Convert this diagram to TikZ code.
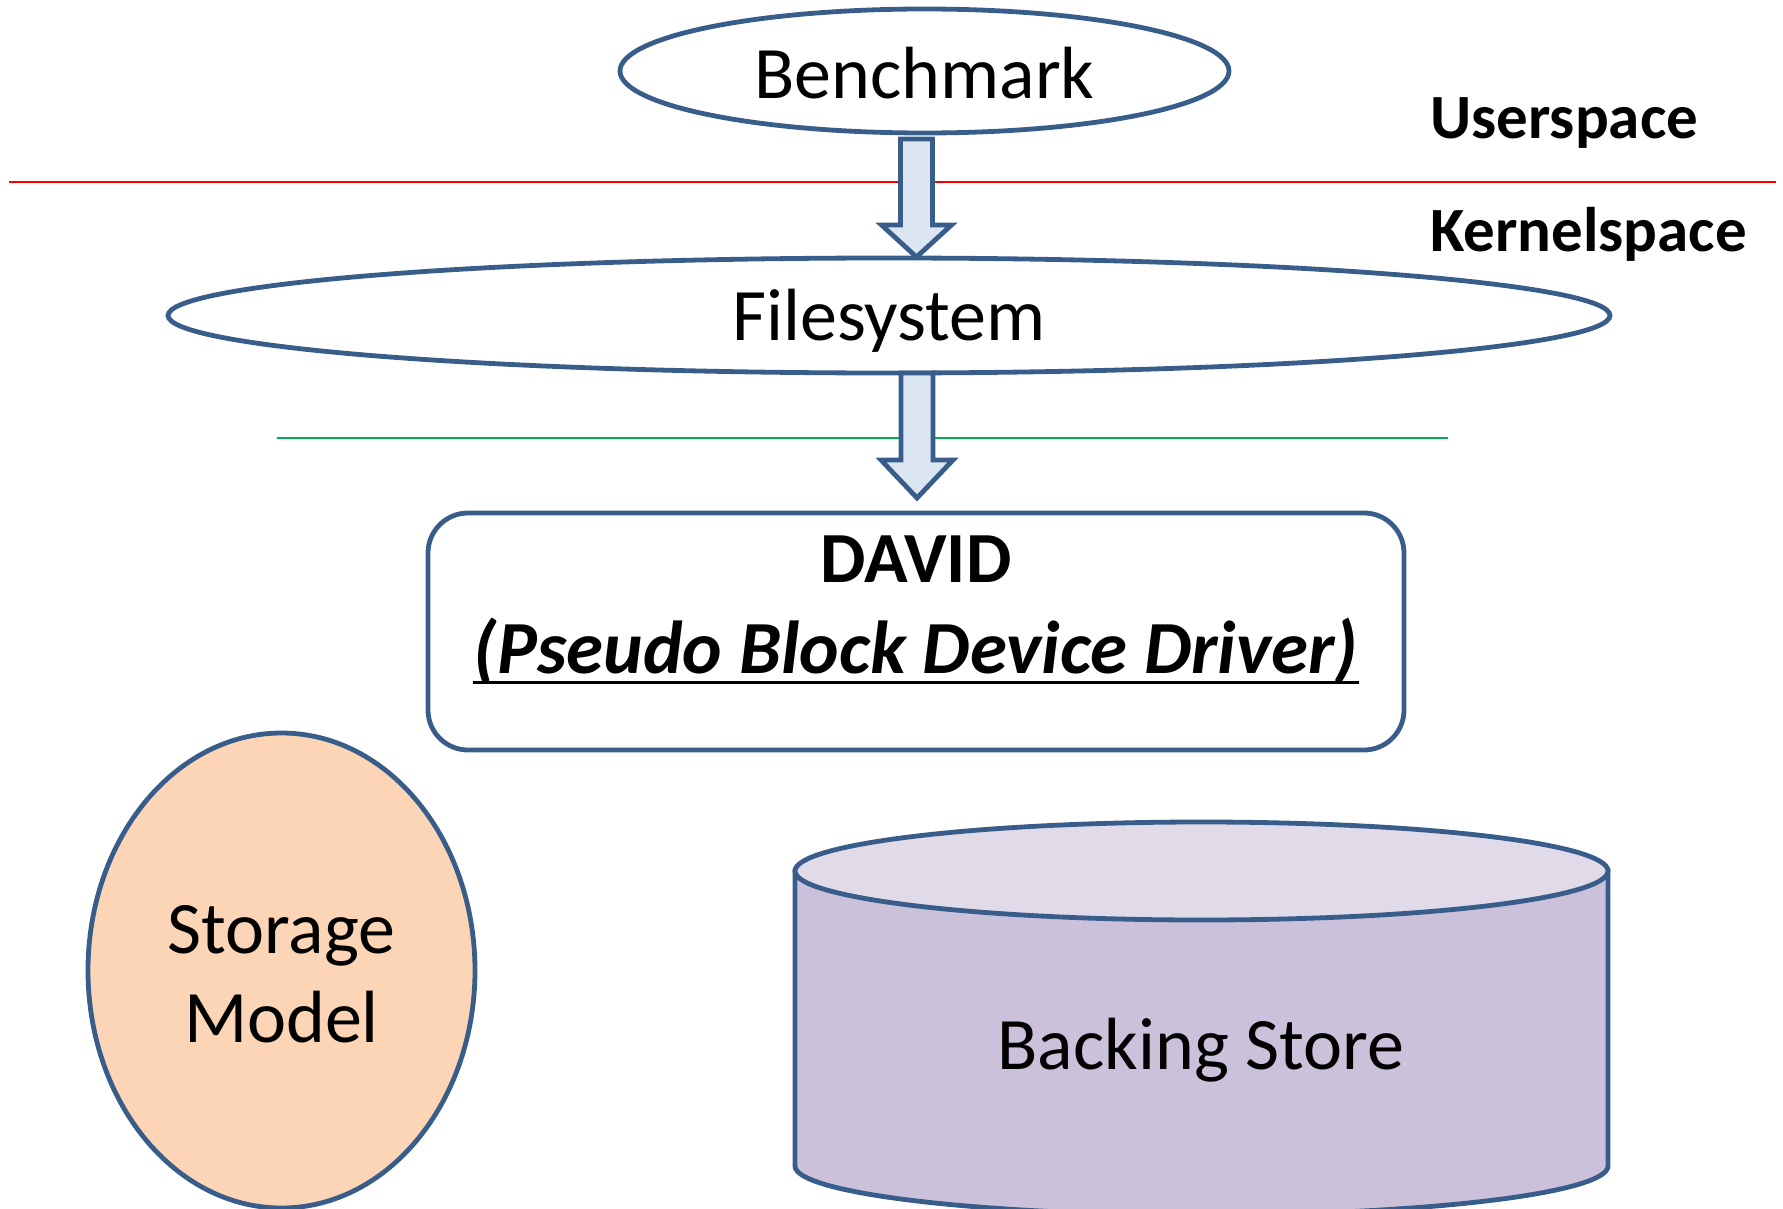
\documentclass[tikz,border=0pt]{standalone}
\usepackage{fontspec}
\setmainfont{Carlito}
\usetikzlibrary{shapes.geometric,calc}
\definecolor{strk}{HTML}{385D8A}
\definecolor{arrfill}{HTML}{DCE6F2}
\definecolor{peach}{HTML}{FBD5B5}
\definecolor{cyltop}{HTML}{E0DAE9}
\definecolor{cylbody}{HTML}{CBC1DA}
\definecolor{lgreen}{HTML}{00B050}
\newcommand\blockarrow[4]{% top coord, tip coord, head length, head half width
  \draw[arrowbox] ($(#1)+(-16,0)$) -- ($(#1)+(16,0)$) -- ($(#2)+(16,-#3)$) -- ($(#2)+(#4,-#3)$) -- (#2) -- ($(#2)+(-#4,-#3)$) -- ($(#2)+(-16,-#3)$) -- cycle;}
\begin{document}
\begin{tikzpicture}[x=0.5pt,y=-0.5pt,
  outl/.style={draw=strk,line width=2.4pt},
  arrowbox/.style={draw=strk,fill=arrfill,line width=2.4pt,line join=miter},
  big/.style={font=\fontsize{37}{44}\selectfont,inner sep=0pt},
  lbl/.style={font=\bfseries\fontsize{31.5}{38}\selectfont,inner sep=0pt},
  ell/.style={outl,ellipse,inner sep=0pt}]
\useasboundingbox (0,0) rectangle (1783,1209);
% separator lines
\coordinate (rl) at (9,182); \coordinate (rr) at (1776,182);
\coordinate (gl) at (277,438); \coordinate (gr) at (1448,438);
\draw[red,line width=1pt] (rl) -- (rr);
\draw[lgreen,line width=0.8pt] (gl) -- (gr);
% nodes
\node[ell,minimum width=304.5pt,minimum height=62pt] (bench) at (924.5,71) {};
\node[big,anchor=base] (benchT) at (924.5,99) {Benchmark};
\node[ell,minimum width=721pt,minimum height=57.5pt] (fs) at (889,315.5) {};
\node[big,anchor=base] (fsT) at (889,341) {Filesystem};
\node[lbl,anchor=base west] (us) at (1430,139) {Userspace};
\node[lbl,anchor=base west] (ks) at (1430,252) {Kernelspace};
% arrows
\coordinate (a1t) at (916.5,139); \coordinate (a1p) at (916.5,257);
\coordinate (a2t) at (917,373); \coordinate (a2p) at (917,498);
\blockarrow{a1t}{a1p}{32}{35}
\blockarrow{a2t}{a2p}{38}{36}
% DAVID box
\node[outl,rounded corners=20pt,minimum width=488pt,minimum height=118.5pt,fill=white] (david) at (916,631.5) {};
\node[font=\bfseries\fontsize{36}{43}\selectfont,inner sep=0pt,anchor=base] (davidT) at (916,582) {DAVID};
\node[font=\bfseries\itshape\fontsize{37.5}{45}\selectfont,inner sep=0pt,anchor=base] (pbd) at (916,673) {(Pseudo Block Device Driver)};
\draw[line width=1.8pt] ([yshift=-4.8pt]pbd.base west) -- ([yshift=-4.8pt]pbd.base east);
% storage model
\node[ell,fill=peach,minimum width=193.5pt,minimum height=237.5pt] (sm) at (281.5,970.5) {};
\node[big,anchor=base] (smT1) at (281.5,953) {Storage};
\node[big,anchor=base] (smT2) at (281.5,1042) {Model};
% backing store cylinder
\draw[outl,fill=cylbody] (795,871) -- (795,1166) arc[start angle=180,end angle=0,x radius=406.5,y radius=49] -- (1608,871) -- cycle;
\draw[outl,fill=cyltop] (1201.5,871) ellipse[x radius=406.5,y radius=49];
\node[big,anchor=base] (bs) at (1201,1069) {Backing Store};
\end{tikzpicture}
\end{document}
